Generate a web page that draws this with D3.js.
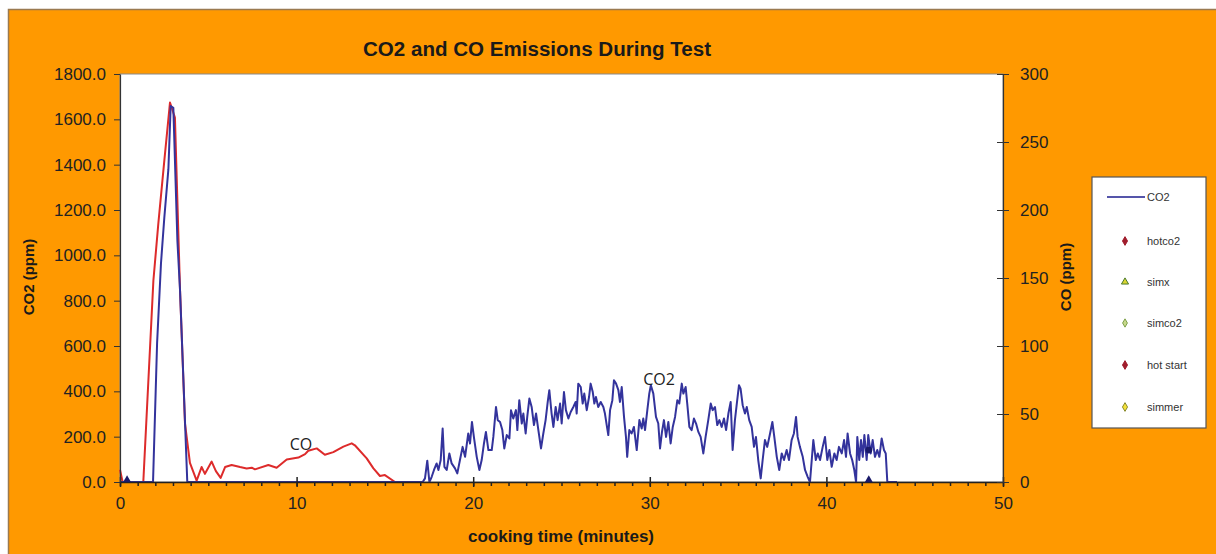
<!DOCTYPE html>
<html><head><meta charset="utf-8">
<script src="https://cdn.jsdelivr.net/npm/d3@7"></script>
<style>
html,body{margin:0;padding:0;background:#fff;}
svg{display:block;font-family:"Liberation Sans",Arial,sans-serif;}
</style></head>
<body><svg id="c" width="1216" height="554"></svg>
<script>
// ---- data ----
const chartTitle = "CO2 and CO Emissions During Test";
const xTicks = [0, 10, 20, 30, 40, 50];
const leftTicks = [0, 200, 400, 600, 800, 1000, 1200, 1400, 1600, 1800];
const rightTicks = [0, 50, 100, 150, 200, 250, 300];

// CO2 (ppm, left axis) : time in minutes, value
const co2Time = [0,1.87,2.1,2.32,2.51,2.74,2.87,3.02,3.25,3.4,3.81,17.14,
17.27,17.4,17.52,17.65,17.78,17.93,18.03,18.16,18.27,18.37,18.5,18.65,18.78,18.97,19.1,19.25,19.4,19.54,19.72,19.82,19.93,20.05,20.2,20.35,20.48,20.61,20.72,20.86,21.05,21.14,21.29,21.39,21.52,21.65,21.76,21.9,22.05,22.14,22.27,22.42,22.5,22.61,22.75,22.84,22.97,23.06,23.18,23.31,23.44,23.56,23.69,23.84,23.97,24.1,24.22,24.31,24.44,24.54,24.67,24.78,24.92,25.01,25.14,25.25,25.39,25.52,25.67,25.8,25.86,25.95,26.09,26.2,26.29,26.43,26.56,26.65,26.77,26.86,26.95,27.08,27.22,27.37,27.46,27.56,27.65,27.75,27.88,27.97,28.09,28.22,28.31,28.41,28.54,28.65,28.72,28.84,28.97,29.1,29.26,29.41,29.54,29.63,29.73,29.86,29.97,30.06,30.2,30.35,30.48,30.58,30.69,30.8,30.92,31.05,31.18,31.3,31.43,31.56,31.67,31.81,31.9,32.03,32.12,32.24,32.37,32.5,32.62,32.75,32.88,33.03,33.16,33.31,33.45,33.56,33.69,33.82,33.94,34.07,34.2,34.32,34.45,34.58,34.69,34.82,34.95,35.05,35.14,35.26,35.39,35.49,35.63,35.77,35.9,36.01,36.14,36.28,36.39,36.52,36.65,36.81,36.94,37.05,37.19,37.33,37.47,37.6,37.75,37.88,38.03,38.16,38.28,38.37,38.5,38.66,38.79,38.94,39.07,39.17,39.26,39.4,39.51,39.64,39.79,39.92,40.05,40.17,40.3,40.45,40.58,40.71,40.87,41.0,41.11,41.2,41.34,41.46,41.58,41.68,41.75,41.86,41.96,42.06,42.15,42.28,42.37,42.51,42.62,42.75,42.88,43.0,43.13,43.26,43.36,43.45,44.0];
const co2Vals = [0,0,612,964,1167,1380,1659,1651,1065,845,0,0,
16,94,0,23,53,82,53,97,236,67,53,126,82,60,38,97,155,111,214,170,265,192,111,53,97,170,221,141,141,199,331,273,265,229,148,207,192,317,280,317,229,361,258,302,214,287,368,331,251,302,229,148,214,273,353,405,302,243,331,273,346,258,397,317,280,309,331,353,302,434,419,346,390,317,375,434,397,346,375,331,353,331,302,251,207,317,361,449,434,405,353,419,287,199,111,229,214,243,141,273,236,280,229,317,390,427,390,287,258,148,221,273,199,265,170,243,287,361,346,434,390,419,346,243,229,280,258,221,199,126,199,273,346,317,331,251,273,243,280,229,302,353,141,273,361,427,412,339,302,331,273,243,155,199,97,16,97,185,155,214,265,199,111,53,126,97,141,97,185,214,287,199,155,111,53,23,0,97,185,97,126,97,155,199,97,141,67,126,97,155,126,185,111,214,126,97,53,0,199,97,185,111,207,97,207,126,185,111,141,111,192,141,126,0,0];

// CO (ppm, right axis)
const coTime = [0,0.15,1.32,1.89,2.17,2.5,2.83,3.11,3.4,3.68,3.96,4.34,4.62,4.81,5.19,5.43,5.7,5.95,6.32,6.8,7.17,7.46,7.64,8.4,8.87,9.44,10.1,10.48,10.66,11.14,11.6,12.08,12.65,13.12,13.3,13.97,14.35,14.72,15.0,15.57];
const coVals = [9,0,0,148,190,235,279,268,141,43,14,1,11,6,15,8,3,11,12.5,11,10,10.5,9.3,12.5,10.5,16.6,18,20.5,23,24.7,20,22,26,28.4,27,17.4,10,4.4,5.1,0];

// point markers seen on the chart
const triangleMarks = [[0.4, 0], [42.4, 0]];
const dotMarks = [[42.4, 141]];

const legendLabels = ["CO2", "hotco2", "simx", "simco2", "hot start", "simmer"];

// ---- drawing ----
const svg = d3.select("#c");
const W = 1216, H = 554;
const P = {l:120, r:1003, t:74, b:482};
const x = d3.scaleLinear().domain([0,50]).range([P.l,P.r]);
const yL = d3.scaleLinear().domain([0,1800]).range([P.b,P.t]);
const yR = d3.scaleLinear().domain([0,300]).range([P.b,P.t]);

svg.append("rect").attr("x",0).attr("y",0).attr("width",W).attr("height",H).attr("fill","#fff");
svg.append("rect").attr("x",8.5).attr("y",9.5).attr("width",W).attr("height",H)
  .attr("fill","#FF9900").attr("stroke","#9a7a50").attr("stroke-width",1.5);

// plot area
svg.append("rect").attr("x",P.l).attr("y",P.t).attr("width",P.r-P.l).attr("height",P.b-P.t)
  .attr("fill","#fff").attr("stroke","#8a8a8a").attr("stroke-width",1);

// title
svg.append("text").attr("x",537).attr("y",56).attr("text-anchor","middle")
  .attr("font-size",20).attr("font-weight","bold").attr("fill","#1a1a1a")
  .attr("textLength",348).attr("lengthAdjust","spacingAndGlyphs").text(chartTitle);

// lines
const lineCO = d3.line().x((d,i)=>x(coTime[i])).y(d=>yR(d));
const lineCO2 = d3.line().x((d,i)=>x(co2Time[i])).y(d=>yL(d));
svg.append("path").attr("d",lineCO(coVals)).attr("fill","none").attr("stroke","#DD2B2B").attr("stroke-width",2).attr("stroke-linejoin","round");
svg.append("path").attr("d",lineCO2(co2Vals)).attr("fill","none").attr("stroke","#33339C").attr("stroke-width",2).attr("stroke-linejoin","round");

// axes
const tickFont = 17;
const gB = svg.append("g").attr("transform",`translate(0,${P.b})`);
gB.call(d3.axisBottom(x).tickValues(d3.range(0,51,1)).tickSize(4).tickFormat(""));
gB.call(g=>g.selectAll(".tick line").attr("stroke","#222").attr("stroke-width",1.5));
const gB2 = svg.append("g").attr("transform",`translate(0,${P.b})`);
gB2.call(d3.axisBottom(x).tickValues(xTicks).tickSize(5).tickSizeOuter(0).tickPadding(10).tickFormat(d3.format("d")));
gB2.selectAll(".tick line").attr("y1",-5).attr("y2",5).attr("stroke","#222").attr("stroke-width",1.5);
gB2.select(".domain").attr("stroke","#222").attr("stroke-width",1.5);
gB2.selectAll("text").attr("font-size",tickFont).attr("fill","#222").attr("font-family","Liberation Sans, Arial");
gB.select(".domain").remove();

const gL = svg.append("g").attr("transform",`translate(${P.l},0)`);
gL.call(d3.axisLeft(yL).tickValues(leftTicks).tickSize(6).tickSizeOuter(0).tickPadding(8).tickFormat(d3.format(".1f")));
gL.select(".domain").attr("stroke","#333").attr("stroke-width",1.2);
gL.selectAll(".tick line").attr("stroke","#333");
gL.selectAll("text").attr("font-size",tickFont).attr("fill","#222").attr("font-family","Liberation Sans, Arial");

const gR = svg.append("g").attr("transform",`translate(${P.r},0)`);
gR.call(d3.axisRight(yR).tickValues(rightTicks).tickSize(6).tickSizeOuter(0).tickPadding(11));
gR.select(".domain").attr("stroke","#333").attr("stroke-width",1.2);
gR.selectAll(".tick line").attr("x1",-6).attr("x2",6).attr("stroke","#333");
gR.selectAll("text").attr("font-size",tickFont).attr("fill","#222").attr("font-family","Liberation Sans, Arial");

// axis titles
svg.append("text").attr("transform","translate(34,277) rotate(-90)").attr("text-anchor","middle")
  .attr("font-size",15).attr("font-weight","bold").attr("fill","#1a1a1a").text("CO2 (ppm)");
svg.append("text").attr("transform","translate(1071,277) rotate(-90)").attr("text-anchor","middle")
  .attr("font-size",15).attr("font-weight","bold").attr("fill","#1a1a1a").text("CO (ppm)");
svg.append("text").attr("x",561).attr("y",542).attr("text-anchor","middle")
  .attr("font-size",17).attr("font-weight","bold").attr("fill","#1a1a1a").text("cooking time (minutes)");

// markers
svg.selectAll(".tri").data(triangleMarks).enter().append("path")
  .attr("d",d3.symbol(d3.symbolTriangle,28)())
  .attr("transform",d=>`translate(${x(d[0])},${yL(d[1])-2})`).attr("fill","#1a1a6a");
svg.selectAll(".dot").data(dotMarks).enter().append("circle")
  .attr("cx",d=>x(d[0])).attr("cy",d=>yL(d[1])).attr("r",3)
  .attr("fill","#1a1a6a").attr("stroke","#1a1a6a");

// annotations
svg.append("text").attr("x",301).attr("y",450).attr("text-anchor","middle").attr("font-size",16)
  .attr("font-family","Open Sans, sans-serif").attr("fill","#222").text("CO");
svg.append("text").attr("x",659).attr("y",385).attr("text-anchor","middle").attr("font-size",16)
  .attr("font-family","Open Sans, sans-serif").attr("fill","#222").text("CO2");

// legend
const lg = svg.append("g");
lg.append("rect").attr("x",1092).attr("y",177).attr("width",114).attr("height",251)
  .attr("fill","#fff").attr("stroke","#555").attr("stroke-width",1.2);
const legY = [197, 241, 282, 323, 365, 407];
lg.append("line").attr("x1",1107).attr("x2",1145).attr("y1",legY[0]).attr("y2",legY[0])
  .attr("stroke","#5555aa").attr("stroke-width",2);
const mk = [
  null,
  {sym:d3.symbolDiamond, size:22, fill:"#a01c2c", stroke:"#a01c2c"},
  {sym:d3.symbolTriangle, size:22, fill:"#d9d430", stroke:"#4b7a2a"},
  {sym:d3.symbolDiamond, size:20, fill:"#c7d88a", stroke:"#7ea04a"},
  {sym:d3.symbolDiamond, size:22, fill:"#a01c2c", stroke:"#a01c2c"},
  {sym:d3.symbolDiamond, size:22, fill:"#f5e23a", stroke:"#8a8a2a"}
];
legendLabels.forEach((t,i)=>{
  if(i>0){
    lg.append("path").attr("d",d3.symbol(mk[i].sym,mk[i].size)())
      .attr("transform",`translate(1125,${legY[i]})`)
      .attr("fill",mk[i].fill).attr("stroke",mk[i].stroke).attr("stroke-width",1);
  }
  lg.append("text").attr("x",1147).attr("y",legY[i]+4).attr("font-size",11)
    .attr("fill","#333").text(t);
});
</script></body></html>
